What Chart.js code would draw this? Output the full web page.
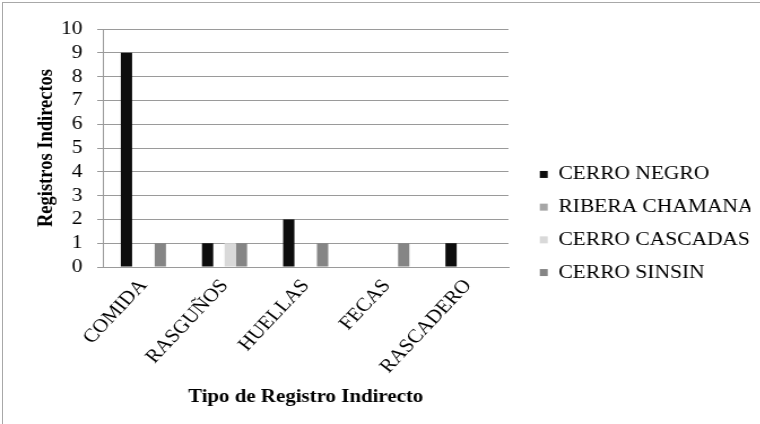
<!DOCTYPE html>
<html>
<head>
<meta charset="utf-8">
<script src="https://cdn.jsdelivr.net/npm/chart.js@4/dist/chart.umd.min.js"></script>
<style>
  html, body { margin: 0; padding: 0; background: #fff; width: 760px; height: 424px; overflow: hidden; }
  #frame { position: absolute; left: 2px; top: 2px; width: 800px; height: 500px;
           border-left: 1px solid #a8a8a8; border-top: 1px solid #a8a8a8; box-sizing: border-box; }
  /* the chart is laid out on a narrower canvas and widened to the page */
  #chart { position: absolute; left: 0; top: 0; transform-origin: 0 0; transform: scaleX(1.13); }
</style>
</head>
<body>
<div id="frame"></div>
<canvas id="chart" width="673" height="424"></canvas>
<script>
// Registros indirectos por sitio
const categories = ['COMIDA', 'RASGUÑOS', 'HUELLAS', 'FECAS', 'RASCADERO'];
const cerroNegro = [9, 1, 2, 0, 1];
const riberaChamana = [0, 0, 0, 0, 0];
const cerroCascadas = [0, 1, 0, 0, 0];
const cerroSinsin = [1, 1, 1, 1, 0];
const seriesNames = ['CERRO NEGRO', 'RIBERA CHAMANA', 'CERRO CASCADAS', 'CERRO SINSIN'];
const yMin = 0, yMax = 10, yStep = 1;

const FONT = "'Liberation Serif', 'Times New Roman', serif";
const INK = '#000';
const RULE = '#9a9a9a';

// place the legend block beside the plot
const legendPlacement = {
  id: 'legendPlacement',
  afterLayout(chart) {
    const lg = chart.legend;
    if (!lg) return;
    const dx = chart.chartArea.right + 14 - lg.left;
    const dy = -3;
    lg.left += dx; lg.right += dx;
    lg.top += dy; lg.bottom += dy;
  }
};

new Chart(document.getElementById('chart'), {
  type: 'bar',
  data: {
    labels: categories,
    datasets: [
      { label: seriesNames[0], data: cerroNegro, backgroundColor: '#0d0d0d' },
      { label: seriesNames[1], data: riberaChamana, backgroundColor: '#a6a6a6' },
      { label: seriesNames[2], data: cerroCascadas, backgroundColor: '#d9d9d9' },
      { label: seriesNames[3], data: cerroSinsin, backgroundColor: '#858585' }
    ]
  },
  options: {
    responsive: false,
    animation: false,
    devicePixelRatio: 1,
    datasets: { bar: { categoryPercentage: 0.556, barPercentage: 1.0, borderWidth: 0 } },
    layout: { padding: { left: 0, top: 29, right: 23, bottom: 0 } },
    plugins: {
      tooltip: { enabled: false },
      legend: {
        position: 'right',
        maxWidth: 200,
        labels: {
          font: { family: FONT, size: 19 },
          color: INK,
          boxWidth: 7,
          boxHeight: 7,
          padding: 13.7
        }
      }
    },
    scales: {
      x: {
        grid: { display: false },
        border: { display: true, color: RULE, width: 1 },
        ticks: {
          font: { family: FONT, size: 19 },
          color: INK,
          minRotation: 50,
          maxRotation: 50,
          autoSkip: false,
          padding: 0
        },
        title: {
          display: true,
          text: 'Tipo de Registro Indirecto',
          font: { family: FONT, size: 18.5, weight: 'bold' },
          color: INK,
          padding: { top: 0, bottom: 16 }
        },
        afterFit(scale) { scale.height = 157; }
      },
      y: {
        min: yMin,
        max: yMax,
        grid: { color: RULE, lineWidth: 1, tickLength: 5, drawTicks: true },
        border: { display: true, color: RULE, width: 1 },
        ticks: {
          stepSize: yStep,
          autoSkip: false,
          font: { family: FONT, size: 19 },
          color: INK,
          padding: 13
        },
        title: {
          display: true,
          text: 'Registros Indirectos',
          font: { family: FONT, size: 18.5, weight: 'bold' },
          color: INK,
          padding: { top: 30, bottom: 0 }
        },
        afterFit(scale) { scale.width = 91; }
      }
    }
  },
  plugins: [legendPlacement]
});
</script>
</body>
</html>
